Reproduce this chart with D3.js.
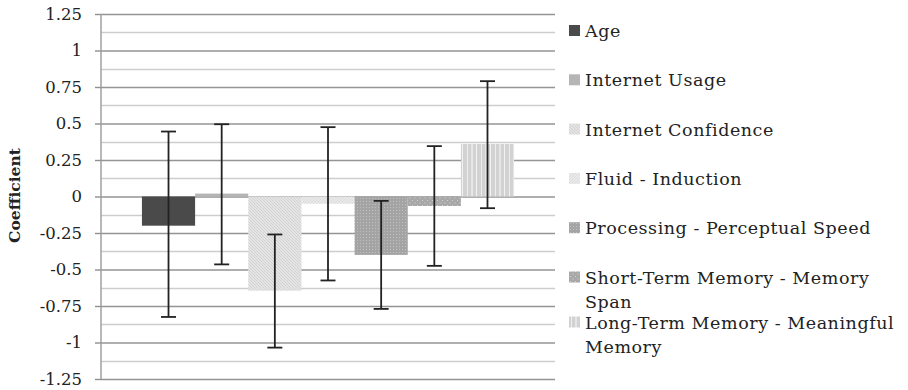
<!DOCTYPE html>
<html>
<head>
<meta charset="utf-8">
<script src="https://cdn.jsdelivr.net/npm/d3@7"></script>
<style>
  body { margin: 0; background: #fff; }
  svg { display: block; font-family: 'DejaVu Serif', serif; }
</style>
</head>
<body>
<svg width="908" height="390"></svg>
<script>
var categories = ['Coefficients'];
var seriesNames = [
  'Age',
  'Internet Usage',
  'Internet Confidence',
  'Fluid - Induction',
  'Processing - Perceptual Speed',
  'Short-Term Memory - Memory Span',
  'Long-Term Memory - Meaningful Memory'
];
var coefValues = [-0.2, 0.02, -0.645, -0.05, -0.4, -0.065, 0.36];
var ciLow = [-0.825, -0.465, -1.035, -0.575, -0.77, -0.475, -0.08];
var ciHigh = [0.445, 0.495, -0.26, 0.475, -0.03, 0.345, 0.79];
var yTicks = [1.25, 1, 0.75, 0.5, 0.25, 0, -0.25, -0.5, -0.75, -1, -1.25];
var tickLabels = ['1.25', '1', '0.75', '0.5', '0.25', '0', '-0.25', '-0.5', '-0.75', '-1', '-1.25'];

function drawChart() {
  'use strict';
  var svg = d3.select('svg');
  var margin = {top: 14, left: 101, right: 353, bottom: 11};
  var width = 908 - margin.left - margin.right;
  var height = 390 - margin.top - margin.bottom;
  var fills = ['#4a4a4a', '#b5b5b5', 'url(#hatchA)', 'url(#hatchB)', 'url(#dotsA)', 'url(#dotsB)', 'url(#stripes)'];

  var defs = svg.append('defs');
  var p = defs.append('pattern').attr('id', 'hatchA').attr('patternUnits', 'userSpaceOnUse')
    .attr('width', 3).attr('height', 3);
  p.append('rect').attr('width', 3).attr('height', 3).attr('fill', '#e4e4e4');
  p.append('path').attr('d', 'M-1,-1 L4,4 M-1,2 L1,4 M2,-1 L4,1').attr('stroke', '#cecece').attr('stroke-width', 0.8);

  p = defs.append('pattern').attr('id', 'hatchB').attr('patternUnits', 'userSpaceOnUse')
    .attr('width', 3).attr('height', 3);
  p.append('rect').attr('width', 3).attr('height', 3).attr('fill', '#eaeaea');
  p.append('path').attr('d', 'M-1,4 L4,-1 M-1,1 L1,-1 M2,4 L4,2').attr('stroke', '#d6d6d6').attr('stroke-width', 0.8);

  p = defs.append('pattern').attr('id', 'dotsA').attr('patternUnits', 'userSpaceOnUse')
    .attr('width', 3).attr('height', 3);
  p.append('rect').attr('width', 3).attr('height', 3).attr('fill', '#a4a4a4');
  p.append('rect').attr('x', 1).attr('y', 1).attr('width', 1).attr('height', 1).attr('fill', '#c0c0c0');

  p = defs.append('pattern').attr('id', 'dotsB').attr('patternUnits', 'userSpaceOnUse')
    .attr('width', 5).attr('height', 5);
  p.append('rect').attr('width', 5).attr('height', 5).attr('fill', '#a8a8a8');
  p.append('rect').attr('x', 1).attr('y', 1).attr('width', 1).attr('height', 1).attr('fill', '#d4d4d4');
  p.append('rect').attr('x', 3.5).attr('y', 3.5).attr('width', 1).attr('height', 1).attr('fill', '#d4d4d4');

  p = defs.append('pattern').attr('id', 'stripes').attr('patternUnits', 'userSpaceOnUse')
    .attr('width', 14).attr('height', 4);
  p.append('rect').attr('width', 14).attr('height', 4).attr('fill', '#d2d2d2');
  p.append('rect').attr('x', 2).attr('width', 1).attr('height', 4).attr('fill', '#eeeeee');
  p.append('rect').attr('x', 6).attr('width', 2).attr('height', 4).attr('fill', '#e6e6e6');
  p.append('rect').attr('x', 11).attr('width', 1).attr('height', 4).attr('fill', '#f2f2f2');

  var g = svg.append('g')
    .attr('transform', 'translate(' + [margin.left, margin.top] + ')');

  var y = d3.scaleLinear().domain([-1.25, 1.25]).range([height, 0]);
  var x0 = d3.scaleBand().domain(categories).range([0, width]).paddingOuter(0.11).paddingInner(0);
  var x1 = d3.scaleBand().domain(seriesNames).range([0, x0.bandwidth()]).padding(0);

  // minor gridlines
  var minor = d3.range(-1.125, 1.25, 0.25);
  g.selectAll('.minor').data(minor).enter().append('line')
    .attr('class', 'minor')
    .attr('x1', 0).attr('x2', width)
    .attr('y1', function (d) { return Math.round(y(d)) + 0.5; })
    .attr('y2', function (d) { return Math.round(y(d)) + 0.5; })
    .style('stroke', '#cdcdcd').style('stroke-width', '1.4px');

  var yAxis = d3.axisLeft(y).tickValues(yTicks).tickSize(6).tickPadding(13)
    .tickFormat(function (d, i) { return tickLabels[i]; });
  var ax = g.append('g').call(yAxis);
  ax.select('.domain').remove();
  ax.selectAll('.tick line').style('stroke', '#8f8f8f').style('stroke-width', '1.4px');
  ax.selectAll('.tick text').style('fill', '#222').style('font-size', '16.5px')
    .style('font-family', "'DejaVu Serif', serif");
  ax.selectAll('.tick').append('line')
    .attr('x1', 0).attr('x2', width)
    .style('stroke', '#959595').style('stroke-width', '1.4px');

  g.append('line').attr('x1', 0).attr('x2', 0).attr('y1', 0).attr('y2', height)
    .style('stroke', '#9a9a9a').style('stroke-width', '1.4px');

  g.selectAll('.bar').data(coefValues).enter().append('rect')
    .attr('class', 'bar')
    .attr('x', function (d, i) { return x0(categories[0]) + x1(seriesNames[i]); })
    .attr('width', x1.bandwidth())
    .attr('y', function (d) { return y(Math.max(0, d)); })
    .attr('height', function (d) { return Math.abs(y(d) - y(0)); })
    .attr('fill', function (d, i) { return fills[i]; });

  var errs = g.selectAll('.err').data(coefValues).enter().append('g').attr('class', 'err')
    .attr('transform', function (d, i) {
      return 'translate(' + (x0(categories[0]) + x1(seriesNames[i]) + x1.bandwidth() / 2) + ',0)';
    })
    .style('stroke', '#222').style('stroke-width', '1.8px');
  errs.append('line').attr('y1', function (d, i) { return y(ciLow[i]); })
    .attr('y2', function (d, i) { return y(ciHigh[i]); });
  errs.append('line').attr('x1', -7.5).attr('x2', 7.5)
    .attr('y1', function (d, i) { return y(ciLow[i]); })
    .attr('y2', function (d, i) { return y(ciLow[i]); });
  errs.append('line').attr('x1', -7.5).attr('x2', 7.5)
    .attr('y1', function (d, i) { return y(ciHigh[i]); })
    .attr('y2', function (d, i) { return y(ciHigh[i]); });

  svg.append('text')
    .attr('transform', 'translate(20,' + (y(0) + margin.top - 1) + ') rotate(-90)')
    .attr('text-anchor', 'middle')
    .style('font-weight', 'bold').style('font-size', '15.5px').style('fill', '#222')
    .text('Coefficient');

  // legend
  var legend = svg.append('g').attr('transform', 'translate(569,0)');
  var maxW = 322;
  var lineH = 24;
  var base = 37;
  seriesNames.forEach(function (name, i) {
    var item = legend.append('g');
    item.append('rect').attr('x', 0).attr('y', base - 12).attr('width', 11).attr('height', 11)
      .attr('fill', fills[i]);
    var t = item.append('text').attr('x', 16).attr('y', base)
      .style('font-size', '17.5px').style('letter-spacing', '0.55px').style('fill', '#222');
    var words = name.split(' ');
    var line = [];
    var tspan = t.append('tspan').attr('x', 16).attr('y', base);
    var lines = 1;
    words.forEach(function (w) {
      line.push(w);
      tspan.text(line.join(' '));
      if (tspan.node().getComputedTextLength() > maxW && line.length > 1) {
        line.pop();
        tspan.text(line.join(' '));
        line = [w];
        tspan = t.append('tspan').attr('x', 16).attr('y', base + lines * lineH).text(w);
        lines += 1;
      }
    });
    base += lines > 1 ? 45 : 49.3;
  });
}

drawChart();
</script>
</body>
</html>
